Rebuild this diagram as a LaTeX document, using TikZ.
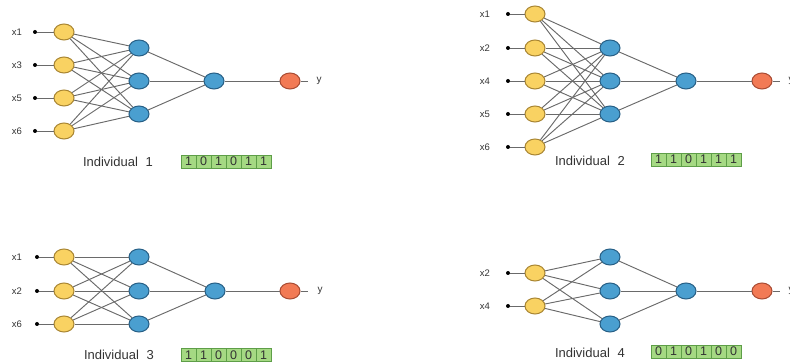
\documentclass[tikz,border=0pt]{standalone}
\usepackage{fontspec}
\setmainfont{Liberation Sans}
\usetikzlibrary{shapes.geometric}
\definecolor{yelfill}{HTML}{F9D262}
\definecolor{yeldraw}{HTML}{A88532}
\definecolor{bluefill}{HTML}{4A9FD0}
\definecolor{bluedraw}{HTML}{275F85}
\definecolor{orfill}{HTML}{F27A55}
\definecolor{ordraw}{HTML}{A84B33}
\definecolor{grfill}{HTML}{A5D983}
\definecolor{grdraw}{HTML}{5E9E48}
\definecolor{edgecol}{HTML}{6A6A6A}
\definecolor{txtcol}{HTML}{333333}
\tikzset{
  neuron/.style={ellipse, minimum width=20pt, minimum height=16pt, inner sep=0pt, line width=1pt},
  inneuron/.style={neuron, fill=yelfill, draw=yeldraw},
  hidneuron/.style={neuron, fill=bluefill, draw=bluedraw},
  outneuron/.style={neuron, fill=orfill, draw=ordraw},
  edge/.style={draw=edgecol, line width=0.95pt},
  indot/.style={circle, fill=black, inner sep=0pt, minimum size=4pt},
  xlab/.style={text=txtcol, font=\fontsize{9.5}{11}\selectfont, inner sep=0pt},
  caption/.style={text=txtcol, font=\fontsize{13}{15}\selectfont, inner sep=0pt},
  bitcell/.style={draw=grdraw, fill=grfill, line width=0.7pt, minimum width=15pt, minimum height=13pt, inner sep=0pt, text=txtcol, font=\fontsize{12.5}{14}\selectfont}
}
\begin{document}
\begin{tikzpicture}[x=1pt,y=-1pt]
\useasboundingbox (0,0) rectangle (790,363);
\clip (0,0) rectangle (790,363);
% ---------- Panel 1 ----------
\foreach \l/\yy [count=\i] in {x1/32,x3/65,x5/98,x6/131}{
  \node[xlab] (p1l\i) at (17,\yy) {\l};
  \node[indot] (p1d\i) at (35,\yy) {};
  \node[inneuron] (p1i\i) at (64,\yy) {};
  \draw[edge] (p1d\i) -- (p1i\i);
}
\foreach \yy [count=\j] in {48,81,114}{
  \node[hidneuron] (p1h\j) at (139,\yy) {};
}
\node[hidneuron] (p1o) at (214,81) {};
\node[outneuron] (p1r) at (290,81) {};
\coordinate (p1e) at (308,81);
\node[xlab, font=\fontsize{10}{12}\selectfont] (p1y) at (319,81) {y};
\foreach \i in {1,...,4}{\foreach \j in {1,...,3}{\draw[edge] (p1i\i) -- (p1h\j);}}
\foreach \j in {1,...,3}{\draw[edge] (p1h\j) -- (p1o);}
\draw[edge] (p1o) -- (p1r);
\draw[edge] (p1r) -- (p1e);
\node[caption] (p1c) at (118,162) {Individual\hspace{0.6em}1};
\foreach \b [count=\i from 0] in {1,0,1,0,1,1}{
  \node[bitcell] (p1b\i) at (188.5+15*\i,161.5) {\b};
}
% ---------- Panel 2 ----------
\foreach \l/\yy [count=\i] in {x1/14,x2/48,x4/81,x5/114,x6/147}{
  \node[xlab] (p2l\i) at (485,\yy) {\l};
  \node[indot] (p2d\i) at (508,\yy) {};
  \node[inneuron] (p2i\i) at (535,\yy) {};
  \draw[edge] (p2d\i) -- (p2i\i);
}
\foreach \yy [count=\j] in {48,81,114}{
  \node[hidneuron] (p2h\j) at (610,\yy) {};
}
\node[hidneuron] (p2o) at (686,81) {};
\node[outneuron] (p2r) at (762,81) {};
\coordinate (p2e) at (780,81);
\node[xlab, font=\fontsize{10}{12}\selectfont] (p2y) at (791,81) {y};
\foreach \i in {1,...,5}{\foreach \j in {1,...,3}{\draw[edge] (p2i\i) -- (p2h\j);}}
\foreach \j in {1,...,3}{\draw[edge] (p2h\j) -- (p2o);}
\draw[edge] (p2o) -- (p2r);
\draw[edge] (p2r) -- (p2e);
\node[caption] (p2c) at (590,161) {Individual\hspace{0.6em}2};
\foreach \b [count=\i from 0] in {1,1,0,1,1,1}{
  \node[bitcell] (p2b\i) at (658.5+15*\i,159.5) {\b};
}
% ---------- Panel 3 ----------
\foreach \l/\yy [count=\i] in {x1/257,x2/291,x6/324}{
  \node[xlab] (p3l\i) at (17,\yy) {\l};
  \node[indot] (p3d\i) at (37,\yy) {};
  \node[inneuron] (p3i\i) at (64,\yy) {};
  \draw[edge] (p3d\i) -- (p3i\i);
}
\foreach \yy [count=\j] in {257,291,324}{
  \node[hidneuron] (p3h\j) at (139,\yy) {};
}
\node[hidneuron] (p3o) at (215,291) {};
\node[outneuron] (p3r) at (290,291) {};
\coordinate (p3e) at (308,291);
\node[xlab, font=\fontsize{10}{12}\selectfont] (p3y) at (320,291) {y};
\foreach \i in {1,...,3}{\foreach \j in {1,...,3}{\draw[edge] (p3i\i) -- (p3h\j);}}
\foreach \j in {1,...,3}{\draw[edge] (p3h\j) -- (p3o);}
\draw[edge] (p3o) -- (p3r);
\draw[edge] (p3r) -- (p3e);
\node[caption] (p3c) at (119,355) {Individual\hspace{0.6em}3};
\foreach \b [count=\i from 0] in {1,1,0,0,0,1}{
  \node[bitcell] (p3b\i) at (188.5+15*\i,355) {\b};
}
% ---------- Panel 4 ----------
\foreach \l/\yy [count=\i] in {x2/273,x4/306}{
  \node[xlab] (p4l\i) at (485,\yy) {\l};
  \node[indot] (p4d\i) at (508,\yy) {};
  \node[inneuron] (p4i\i) at (535,\yy) {};
  \draw[edge] (p4d\i) -- (p4i\i);
}
\foreach \yy [count=\j] in {257,291,324}{
  \node[hidneuron] (p4h\j) at (610,\yy) {};
}
\node[hidneuron] (p4o) at (686,291) {};
\node[outneuron] (p4r) at (762,291) {};
\coordinate (p4e) at (780,291);
\node[xlab, font=\fontsize{10}{12}\selectfont] (p4y) at (791,291) {y};
\foreach \i in {1,...,2}{\foreach \j in {1,...,3}{\draw[edge] (p4i\i) -- (p4h\j);}}
\foreach \j in {1,...,3}{\draw[edge] (p4h\j) -- (p4o);}
\draw[edge] (p4o) -- (p4r);
\draw[edge] (p4r) -- (p4e);
\node[caption] (p4c) at (590,353) {Individual\hspace{0.6em}4};
\foreach \b [count=\i from 0] in {0,1,0,1,0,0}{
  \node[bitcell] (p4b\i) at (658.5+15*\i,351.5) {\b};
}
\end{tikzpicture}
\end{document}
